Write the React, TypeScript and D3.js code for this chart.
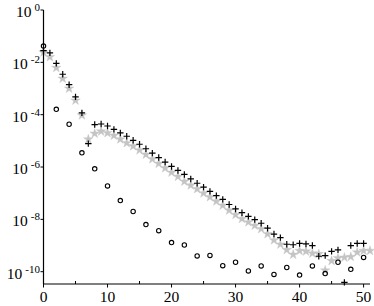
import React from 'react';
import * as d3 from 'd3';

// amplitude of each mode
const circleX = [0, 2, 4, 6, 8, 10, 12, 14, 16, 18, 20, 22, 24, 26, 28, 30, 32, 34, 36, 38, 40, 42, 44, 46, 48, 50];
const circleVals = [4.2e-2, 1.6e-4, 4.3e-5, 3.5e-6, 8.5e-7, 1.9e-7, 5.2e-8, 2.0e-8, 6.3e-9, 3.7e-9, 1.3e-9, 1.05e-9, 4.0e-10,
  4.2e-10, 1.7e-10, 2.3e-10, 1.07e-10, 1.66e-10, 7.9e-11, 1.45e-10, 7.4e-11, 1.66e-10, 8.5e-11, 2.3e-10, 1.23e-10, 3.5e-10];

const plusVals = [2.8e-2, 2.3e-2, 9.1e-3, 3.5e-3, 1.4e-3, 4.8e-4, 1.17e-4, 7.8e-6, 4.2e-5, 4.4e-5, 3.7e-5, 2.75e-5, 2.0e-5,
  1.5e-5, 1.05e-5, 7.4e-6, 5.0e-6, 3.4e-6, 2.3e-6, 1.55e-6, 1.05e-6, 7.4e-7, 5.2e-7, 3.5e-7, 2.4e-7, 1.7e-7, 1.17e-7, 8.1e-8,
  5.8e-8, 3.7e-8, 2.5e-8, 1.8e-8, 1.3e-8, 9.8e-9, 7.1e-9, 4.6e-9, 2.75e-9, 2.0e-9, 1.12e-9, 1.07e-9, 1.2e-9, 1.15e-9, 1.0e-9,
  3.9e-10, 4.1e-10, 6.0e-10, 6.8e-10, 3.9e-11, 1.0e-9, 1.2e-9, 1.2e-9];

const starVals = [2.4e-2, 1.6e-2, 6.2e-3, 2.4e-3, 1.0e-3, 3.5e-4, 9.5e-5, 1.15e-5, 1.9e-5, 2.3e-5, 2.0e-5, 1.6e-5, 1.15e-5,
  8.3e-6, 6.3e-6, 4.4e-6, 3.0e-6, 2.0e-6, 1.35e-6, 9.1e-7, 6.2e-7, 4.3e-7, 2.8e-7, 2.0e-7, 1.45e-7, 1.0e-7, 7.1e-8, 4.9e-8,
  3.4e-8, 2.2e-8, 1.5e-8, 1.05e-8, 7.8e-9, 5.8e-9, 4.3e-9, 2.75e-9, 1.6e-9, 1.1e-9, 6.8e-10, 4.5e-10, 6.3e-10, 6.0e-10,
  5.0e-10, 4.8e-10, 1.12e-10, 2.6e-10, 3.3e-10, 3.5e-10, 3.7e-10, 5.5e-10, 6.3e-10, 6.3e-10];

const xMajor = [0, 10, 20, 30, 40, 50];
const xMinor = [5, 15, 25, 35, 45];
const yTicks = [1, 1e-2, 1e-4, 1e-6, 1e-8, 1e-10];
const yExp = ['0', '-2', '-4', '-6', '-8', '-10'];

const width = 374;
const height = 306;
const margin = { top: 10, right: 4, bottom: 22, left: 43.5 };

const x = d3.scaleLinear().domain([0, 51]).range([margin.left, width - margin.right]);
const y = d3.scaleLog().domain([Math.pow(10, -10.47), 1]).range([height - margin.bottom, margin.top]);

const starPath = d3.symbol().type(d3.symbolStar).size(28)();
const textStyle = { fontFamily: "'Liberation Serif', 'DejaVu Serif', serif" };

export default function App() {
  const y0 = height - margin.bottom;
  return (
    <svg width={width} height={height} style={{ position: 'absolute', left: 0, top: 0, background: '#fff' }}>
      {/* stars */}
      {starVals.map((v, i) =>
        <path key={`s-${i}`} d={starPath} transform={`translate(${x(i)},${y(v)})`} fill='#c4c4c4' stroke='#c4c4c4' strokeWidth={0.4} />
      )}
      {/* plus */}
      {plusVals.map((v, i) =>
        <path key={`p-${i}`} d={`M${x(i) - 3.2},${y(v)}h6.4M${x(i)},${y(v) - 3.2}v6.4`} stroke='#000' strokeWidth={1.2} />
      )}
      {/* circles */}
      {circleVals.map((v, i) =>
        <circle key={`c-${i}`} cx={x(circleX[i])} cy={y(v)} r={2.2} fill='none' stroke='#000' strokeWidth={1.1} />
      )}

      {/* axes */}
      <line x1={margin.left} x2={margin.left} y1={margin.top} y2={y0} stroke='#000' strokeWidth={1.2} />
      <line x1={margin.left} x2={width - margin.right} y1={y0} y2={y0} stroke='#000' strokeWidth={1.2} />
      {xMajor.map(t =>
        <g key={`xt-${t}`}>
          <line x1={x(t)} x2={x(t)} y1={y0} y2={y0 + 3.5} stroke='#000' strokeWidth={1} />
          <text x={x(t)} y={302} textAnchor='middle' fontSize={15.5} style={textStyle}>{t}</text>
        </g>
      )}
      {xMinor.map(t =>
        <line key={`xm-${t}`} x1={x(t)} x2={x(t)} y1={y0} y2={y0 - 3} stroke='#000' strokeWidth={1} />
      )}
      {yTicks.map((t, i) =>
        <g key={`yt-${i}`}>
          <line x1={margin.left - 3} x2={margin.left} y1={y(t)} y2={y(t)} stroke='#000' strokeWidth={1} />
          <text x={40} y={y(t) + 7} textAnchor='end' fontSize={15.5} style={textStyle}>
            10<tspan dx={3} dy={-6} fontSize={11}>{yExp[i]}</tspan>
          </text>
        </g>
      )}
    </svg>
  );
}
